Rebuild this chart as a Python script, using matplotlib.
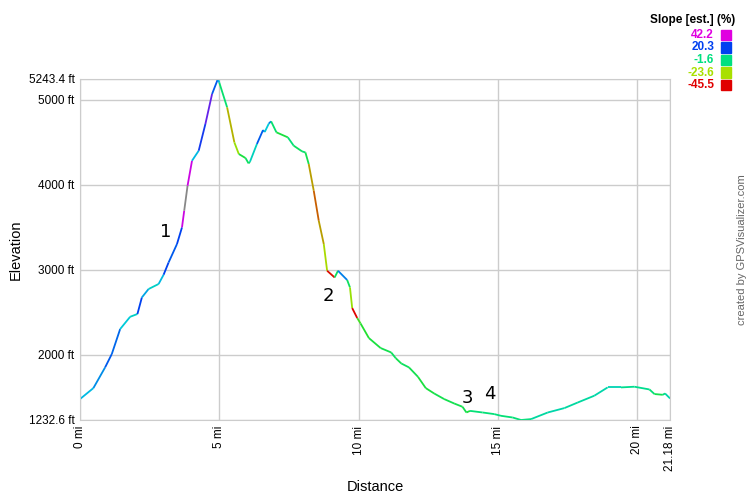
import numpy as np
import matplotlib
matplotlib.use("Agg")
import matplotlib.pyplot as plt
from matplotlib.collections import LineCollection
from matplotlib.colors import LinearSegmentedColormap, Normalize

# elevation profile (miles, feet)
dist = [0.0, 0.48, 0.9, 1.14, 1.44, 1.80, 2.06, 2.22, 2.46, 2.82, 3.0, 3.18, 3.48,
        3.66, 3.74, 3.86, 4.02, 4.26, 4.50, 4.74, 4.95, 5.0, 5.28, 5.54, 5.70,
        5.94, 6.05, 6.10, 6.35, 6.57, 6.63, 6.78, 6.86, 7.05, 7.46, 7.67, 7.97,
        8.09, 8.21, 8.39, 8.57, 8.75, 8.87, 9.14, 9.26, 9.59, 9.69, 9.77, 9.95,
        10.07, 10.37, 10.79, 11.17, 11.33, 11.53, 11.81, 12.13, 12.41, 12.71,
        13.07, 13.43, 13.73, 13.87, 14.0, 14.45, 14.87, 15.11, 15.53, 15.83,
        16.19, 16.79, 17.39, 17.87, 18.46, 18.94, 19.42, 19.90, 20.44, 20.62,
        20.92, 21.0, 21.18]
elev = [1479, 1608, 1851, 2008, 2302, 2447, 2479, 2674, 2773, 2832, 2941, 3086, 3302,
        3498, 3694, 3988, 4282, 4400, 4714, 5067, 5243.4, 5200, 4910, 4498, 4361,
        4314, 4251, 4270, 4479, 4643, 4620, 4721, 4745, 4616, 4557, 4459, 4392,
        4380, 4243, 3929, 3576, 3302, 2988, 2909, 2988, 2879, 2792, 2549, 2432,
        2368, 2196, 2079, 2027, 1961, 1898, 1851, 1741, 1608, 1545,
        1479, 1427, 1388, 1321, 1340, 1321, 1302, 1282, 1262, 1232.6,
        1243, 1321, 1373, 1439, 1518, 1616, 1616, 1624, 1592, 1538,
        1529, 1545, 1486]
# estimated slope (%) of each segment, read from the line colour
slope = [10, 14, 18, 17, 8, 6, 20, 12, 6, 10, 20, 18, 20,
         40, 50, 40, 10, 22, 30, 18, 10, -4, -28, -22, -10,
         -6, -5, 5, 18, 15, 8, 15, -4, -10, -3, -6, -4,
         -8, -30, -36, -30, -24, -44, -6, 15, -6, -22, -45, -15,
         -12, -10, -8, -6, -8, -6, -8, -10, -10, -8,
         -8, -8, -8, -10, -3, -3, -2, -3, -3, -2,
         2, 3, 2, 2, 3, 4, 0, 0, -3, -8,
         -2, 3, -6]

annot_labels = ["1", "2", "3", "4"]
annot_x = [3.06, 8.92, 13.9, 14.7]
annot_y = [3447, 2694, 1494, 1541]

yticks = [1232.6, 2000, 3000, 4000, 5000, 5243.4]
ytick_labels = ["1232.6 ft", "2000 ft", "3000 ft", "4000 ft", "5000 ft", "5243.4 ft"]
xticks = [0, 5, 10, 15, 20, 21.18]
xtick_labels = ["0 mi", "5 mi", "10 mi", "15 mi", "20 mi", "21.18 mi"]

legend_vals = [42.2, 20.3, -1.6, -23.6, -45.5]
legend_cols = ["#e000e0", "#0040f0", "#00e080", "#a8e000", "#e00000"]

# colour scale with a couple of extra in-between stops (cyan, green)
scale_vals = [-45.5, -23.6, -12, -1.6, 9, 20.3, 42.2]
scale_cols = ["#e00000", "#a8e000", "#20e030", "#00e080", "#00c8e0", "#0040f0", "#e000e0"]
lo, hi = min(scale_vals), max(scale_vals)
stops = [((v - lo) / (hi - lo), c) for v, c in zip(scale_vals, scale_cols)]
cmap = LinearSegmentedColormap.from_list("slope", stops)
cmap.set_over("#888888")
norm = Normalize(lo, hi)

plt.rcParams['font.family'] = ['Liberation Sans', 'DejaVu Sans']
fig = plt.figure(figsize=(7.5, 5), dpi=100)
ax = fig.add_axes([0.1067, 0.16, 0.7867, 0.682])

pts = np.column_stack([dist, elev])
segs = np.stack([pts[:-1], pts[1:]], axis=1)
lc = LineCollection(segs, colors=cmap(norm(np.array(slope))), linewidths=1.3,
                    capstyle='butt')
ax.add_collection(lc)

for lab, x, y in zip(annot_labels, annot_x, annot_y):
    ax.text(x, y, lab, fontsize=13, ha='center', va='center', family='DejaVu Sans')

ax.set_xlim(0, 21.18)
ax.set_ylim(1232.6, 5243.4)
ax.set_xticks(xticks)
ax.set_xticklabels(xtick_labels, rotation=90, fontsize=8.5)
ax.set_yticks(yticks)
ax.set_yticklabels(ytick_labels, fontsize=8.5)
ax.tick_params(length=0, pad=4)
ax.grid(True, color='#cccccc', linewidth=1)
for s in ax.spines.values():
    s.set_color('#cccccc')
ax.set_xlabel("Distance", fontsize=10.5)
ax.xaxis.set_label_coords(0.5, -0.177)
ax.set_ylabel("Elevation", fontsize=10.5)
ax.yaxis.set_label_coords(-0.097, 0.5)

# slope legend
fig.text(735 / 750, 1 - 20 / 500, "Slope [est.] (%)", fontsize=8.5, fontweight='bold',
         ha='right', va='center')
for i, (v, c) in enumerate(zip(legend_vals, legend_cols)):
    y = 1 - (35 + i * 12.5) / 500
    fig.text(714 / 750, y, f"{v:.1f}", color=c, fontsize=8.5, fontweight='bold',
             ha='right', va='center')
    fig.patches.append(plt.Rectangle((721 / 750, y - 5 / 500), 10 / 750, 10 / 500,
                                     transform=fig.transFigure, color=c))

fig.text(742 / 750, 250 / 500, "created by GPSVisualizer.com", rotation=90,
         color='#666666', fontsize=8, ha='center', va='center')

fig.savefig("out.png", dpi=100)
